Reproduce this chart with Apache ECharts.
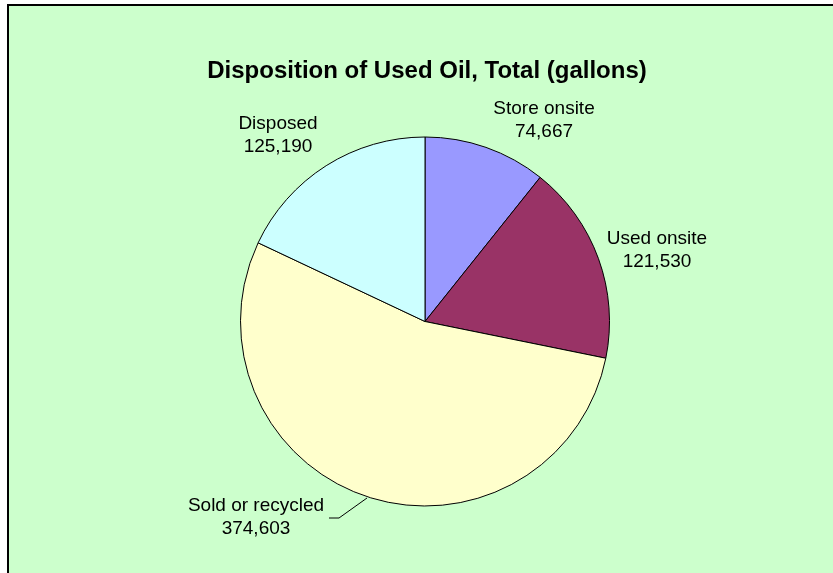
<!DOCTYPE html>
<html>
<head>
<meta charset="utf-8">
<script src="https://cdn.jsdelivr.net/npm/echarts@6/dist/echarts.min.js"></script>
<style>
html,body{margin:0;padding:0;background:#fff;}
#c{width:833px;height:573px;}
</style>
</head>
<body>
<div id="c"></div>
<script>
var chartTitle = 'Disposition of Used Oil, Total (gallons)';
var categories = ['Store onsite', 'Used onsite', 'Sold or recycled', 'Disposed'];
var values = [74667, 121530, 374603, 125190];
var colors = ['#9999FF', '#993366', '#FFFFCC', '#CCFFFF'];

function fmt(n) {
  return String(n).replace(/\B(?=(\d{3})+(?!\d))/g, ',');
}

var labelPos = [
  {x: 544, y: 120},
  {x: 657, y: 250},
  {x: 256, y: 517},
  {x: 278, y: 135}
];

var data = categories.map(function (name, i) {
  return {
    name: name,
    value: values[i],
    itemStyle: {color: colors[i]},
    labelLine: {show: i === 2}
  };
});

var chart = echarts.init(document.getElementById('c'), null, {renderer: 'canvas'});
chart.setOption({
  animation: false,
  backgroundColor: '#FFFFFF',
  graphic: [{
    type: 'rect',
    z: -10,
    shape: {x: 8, y: 5, width: 1000, height: 1000},
    style: {fill: '#CCFFCC', stroke: '#000000', lineWidth: 2}
  }],
  title: {
    text: chartTitle,
    left: 422,
    top: 54,
    textAlign: 'center',
    textStyle: {
      fontFamily: 'Liberation Sans, Arial, sans-serif',
      fontSize: 24,
      fontWeight: 'bold',
      color: '#000'
    }
  },
  series: [{
    type: 'pie',
    center: [425, 321.5],
    radius: [0, 184.5],
    startAngle: 90,
    clockwise: true,
    data: data,
    itemStyle: {borderColor: '#000', borderWidth: 1},
    emphasis: {disabled: true},
    label: {
      show: true,
      formatter: function (p) { return p.name + '\n' + fmt(p.value); },
      fontFamily: 'Liberation Sans, Arial, sans-serif',
      fontSize: 19,
      lineHeight: 23,
      color: '#000',
      align: 'center'
    },
    labelLine: {
      show: true,
      lineStyle: {color: '#000', width: 1}
    },
    labelLayout: function (params) {
      var p = labelPos[params.dataIndex];
      var res = {x: p.x, y: p.y, align: 'center', verticalAlign: 'middle'};
      if (params.dataIndex === 2) {
        res.labelLinePoints = [[367, 498], [339, 518], [329, 518]];
      }
      return res;
    }
  }]
});
</script>
</body>
</html>
